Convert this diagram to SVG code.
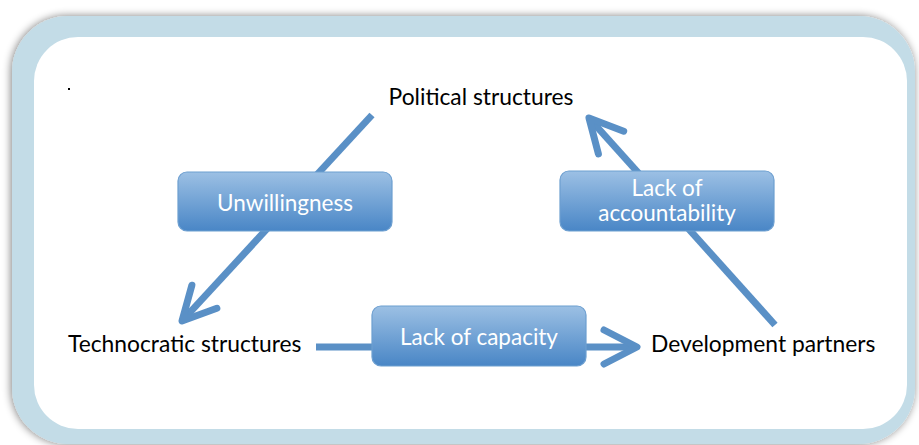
<svg xmlns="http://www.w3.org/2000/svg" width="919" height="445" viewBox="0 0 919 445">
  <style>
    .node-text { font-family: "Lato", "Liberation Sans", sans-serif; font-size: 22.8px; fill: #000000; }
    .label-text { font-family: "Lato", "Liberation Sans", sans-serif; font-size: 22.5px; fill: #ffffff; text-anchor: middle; }
    .label-box { fill: url(#boxGrad); stroke: #6d9fd0; stroke-width: 1.2; }
    .conn { fill: none; stroke: #5a90c6; stroke-width: 7; stroke-linecap: butt; }
  </style>
  <defs>
    <linearGradient id="boxGrad" x1="0" y1="0" x2="0" y2="1">
      <stop offset="0" stop-color="#9cc0e4"/>
      <stop offset="1" stop-color="#4986c6"/>
    </linearGradient>
    <filter id="shadow" x="-5%" y="-5%" width="110%" height="110%">
      <feGaussianBlur in="SourceAlpha" stdDeviation="4"/>
      <feOffset dx="-1" dy="0" result="b"/>
      <feComponentTransfer><feFuncA type="linear" slope="0.5"/></feComponentTransfer>
      <feMerge><feMergeNode/><feMergeNode in="SourceGraphic"/></feMerge>
    </filter>
    <marker id="chev" markerUnits="userSpaceOnUse" viewBox="-42 -26 50 52" markerWidth="50" markerHeight="52" refX="0" refY="0" orient="auto">
      <path d="M-33,-17 L0,0 L-33,17" fill="none" stroke="#5a90c6" stroke-width="7" stroke-linecap="round" stroke-linejoin="round"/>
    </marker>
  </defs>

  <g id="frame">
    <rect x="12" y="16" width="903" height="428" rx="56" ry="56" fill="#c3dce7" filter="url(#shadow)"/>
    <rect x="34" y="37" width="873" height="392" rx="44" ry="44" fill="#ffffff"/>
    <rect x="68" y="88" width="2" height="2" fill="#000000"/>
  </g>

  <g id="connectors">
    <line class="conn" x1="372" y1="115" x2="182" y2="321" marker-end="url(#chev)"/>
    <line class="conn" x1="316" y1="347" x2="637" y2="347" marker-end="url(#chev)"/>
    <line class="conn" x1="775" y1="325" x2="589" y2="118" marker-end="url(#chev)"/>
  </g>

  <g id="node-political">
    <text class="node-text" x="481" y="105" text-anchor="middle">Political structures</text>
  </g>
  <g id="node-technocratic">
    <text class="node-text" x="68" y="352">Technocratic structures</text>
  </g>
  <g id="node-development">
    <text class="node-text" x="651" y="352">Development partners</text>
  </g>

  <g id="label-unwillingness">
    <rect class="label-box" x="178" y="172" width="214" height="59" rx="9" ry="9"/>
    <text class="label-text" x="285" y="211">Unwillingness</text>
  </g>
  <g id="label-accountability">
    <rect class="label-box" x="560" y="171" width="214" height="60" rx="9" ry="9"/>
    <text class="label-text" x="667" y="196">Lack of</text>
    <text class="label-text" x="667" y="221">accountability</text>
  </g>
  <g id="label-capacity">
    <rect class="label-box" x="372" y="306" width="214" height="60" rx="9" ry="9"/>
    <text class="label-text" x="479" y="345">Lack of capacity</text>
  </g>
</svg>
